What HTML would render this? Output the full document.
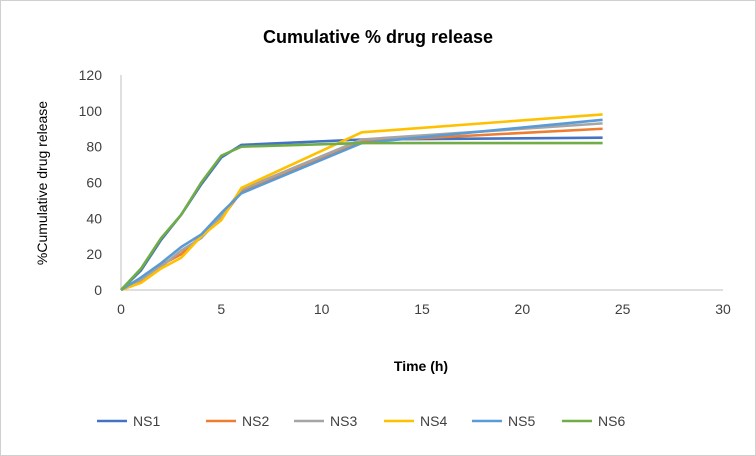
<!DOCTYPE html>
<html><head><meta charset="utf-8"><style>
body{margin:0;background:#fff;}
svg{display:block;font-family:"Liberation Sans",Calibri,sans-serif;}
</style></head><body>
<svg id="chart" width="756" height="456">
<rect x="0.5" y="0.5" width="755" height="455" fill="#fff" stroke="#d0d0d0"/>
<text x="378" y="43" text-anchor="middle" font-size="18" font-weight="bold" fill="#000">Cumulative % drug release</text>
<g id="grid"></g><g id="series"></g>
<text x="421" y="371" text-anchor="middle" font-size="14" font-weight="bold">Time (h)</text>
<text transform="translate(47,183) rotate(-90)" text-anchor="middle" font-size="14">%Cumulative drug release</text>
<g id="legend"></g>
</svg>
<script>
const times=[0,1,2,3,4,5,6,12,24];
const seriesNames=["NS1","NS2","NS3","NS4","NS5","NS6"];
const ns1=[0,11,28,42,59,74,81,84,85];
const ns2=[0,5,14,20,30,40,55,83,90];
const ns3=[0,6,13,22,29,41,56,84,93];
const ns4=[0,4,12,18,30,39,57,88,98];
const ns5=[0,7,15,24,31,43,54,82,95];
const ns6=[0,12,29,42,60,75,80,82,82];
const xTicks=[0,5,10,15,20,25,30];
const yTicks=[0,20,40,60,80,100,120];
const colors=["#4472c4","#ed7d31","#a5a5a5","#ffc000","#5b9bd5","#70ad47"];
const NS="http://www.w3.org/2000/svg";
const X=v=>121+v*(723-121)/30, Y=v=>290-v*(290-75)/120;
function mk(t,a,p){const e=document.createElementNS(NS,t);for(const k in a)e.setAttribute(k,a[k]);p.appendChild(e);return e;}
const g=document.getElementById('grid');
let ax=mk('line',{x1:X(0),x2:X(30),y1:Y(0),y2:Y(0),stroke:'#bfbfbf'},g);


let ay=mk('line',{x1:X(0),x2:X(0),y1:Y(0),y2:Y(120),stroke:'#bfbfbf'},g);


xTicks.forEach(v=>{const t=mk('text',{x:X(v),y:314,'text-anchor':'middle','font-size':14,fill:'#404040'},g);t.textContent=v;

});
yTicks.forEach(v=>{const t=mk('text',{x:102,y:Y(v)+5,'text-anchor':'end','font-size':14,fill:'#404040'},g);t.textContent=v;

});
const all=[ns1,ns2,ns3,ns4,ns5,ns6];
const s=document.getElementById('series');
all.forEach((d,i)=>{const p=mk('polyline',{points:d.map((v,j)=>X(times[j])+','+Y(v)).join(' '),fill:'none',stroke:colors[i],'stroke-width':2.6,'stroke-linejoin':'round'},s);

});
const lg=document.getElementById('legend');
const lx=[97,206,294,384,472,562];
seriesNames.forEach((n,i)=>{const grp=mk('g',{},lg);


mk('line',{x1:lx[i],x2:lx[i]+30,y1:421,y2:421,stroke:colors[i],'stroke-width':2.6},grp);
const t=mk('text',{x:lx[i]+36,y:426,'font-size':14,fill:'#404040'},grp);t.textContent=n;});
</script>
</body></html>
